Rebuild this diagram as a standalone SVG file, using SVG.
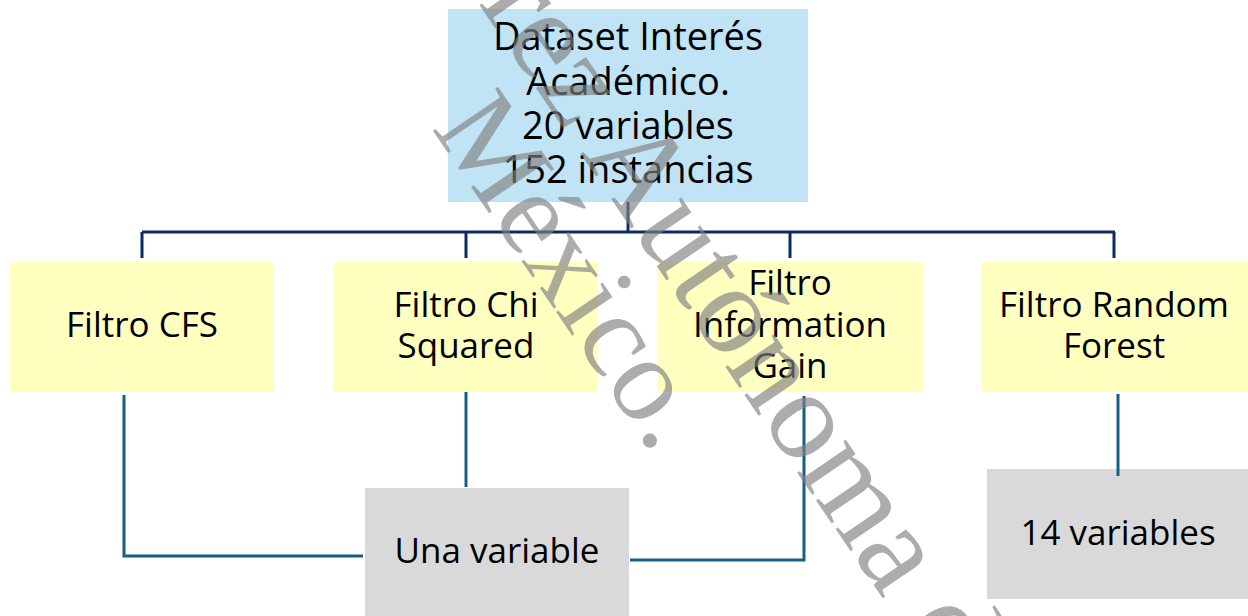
<svg xmlns="http://www.w3.org/2000/svg" width="1248" height="616" viewBox="0 0 1248 616">
  <style>
    .lbl { font-family: "Open Sans", "Noto Sans", "Liberation Sans", sans-serif; font-size: 35px; fill: #000; text-anchor: middle; }
    .lbl-top { font-size: 38px; }
    .root { fill: #c0e4f5; }
    .filter { fill: #ffffc0; }
    .result { fill: #d9d9d9; }
    .bus { fill: none; stroke: #102a63; stroke-width: 3; }
    .link { fill: none; stroke: #156082; stroke-width: 3; }
    .mark { font-family: "Liberation Serif", "Times New Roman", serif; fill: #7f7f7f; fill-opacity: 0.65; }
  </style>

  <rect width="1248" height="616" fill="#ffffff"/>

  <!-- root dataset node -->
  <g id="dataset">
    <rect class="root" x="448" y="9" width="360" height="193"/>
    <text class="lbl lbl-top" x="628" y="50">Dataset Interés</text>
    <text class="lbl lbl-top" x="628" y="95">Académico.</text>
    <text class="lbl lbl-top" x="628" y="139">20 variables</text>
    <text class="lbl lbl-top" x="628" y="183">152 instancias</text>
  </g>

  <!-- filter nodes -->
  <g id="filtro-cfs">
    <rect class="filter" x="10" y="262" width="264" height="130"/>
    <text class="lbl" x="142" y="337">Filtro CFS</text>
  </g>
  <g id="filtro-chi">
    <rect class="filter" x="334" y="262" width="264" height="130"/>
    <text class="lbl" x="466" y="317">Filtro Chi</text>
    <text class="lbl" x="466" y="358">Squared</text>
  </g>
  <g id="filtro-ig">
    <rect class="filter" x="658" y="262" width="265" height="130"/>
    <text class="lbl" x="790" y="295">Filtro</text>
    <text class="lbl" x="790" y="337">Information</text>
    <text class="lbl" x="790" y="378">Gain</text>
  </g>
  <g id="filtro-rf">
    <rect class="filter" x="982" y="262" width="266" height="130"/>
    <text class="lbl" x="1114" y="317">Filtro Random</text>
    <text class="lbl" x="1114" y="358">Forest</text>
  </g>

  <!-- result nodes -->
  <g id="una-variable">
    <rect class="result" x="365" y="488" width="264" height="130"/>
    <text class="lbl" x="497" y="563">Una variable</text>
  </g>
  <g id="catorce-variables">
    <rect class="result" x="987" y="469" width="261" height="130"/>
    <text class="lbl" x="1118" y="545">14 variables</text>
  </g>

  <!-- connectors -->
  <g id="connectors">
    <path class="bus" d="M628 202 V232 M142 232 H1115 M142 232 V258 M466 232 V258 M790 232 V258 M1114 232 V258"/>
    <path class="link" d="M124 395 V556 H363"/>
    <path class="link" d="M466 392 V487"/>
    <path class="link" d="M804 396 V560 H630"/>
    <path class="link" d="M1118 394 V476"/>
  </g>

  <!-- watermark -->
  <g id="watermark">
    <text class="mark" font-size="128" transform="translate(478 3) rotate(55.8)">rez Autónoma d</text>
    <text class="mark" font-size="120" transform="translate(431 128) rotate(55.8)">México.</text>
  </g>
</svg>
